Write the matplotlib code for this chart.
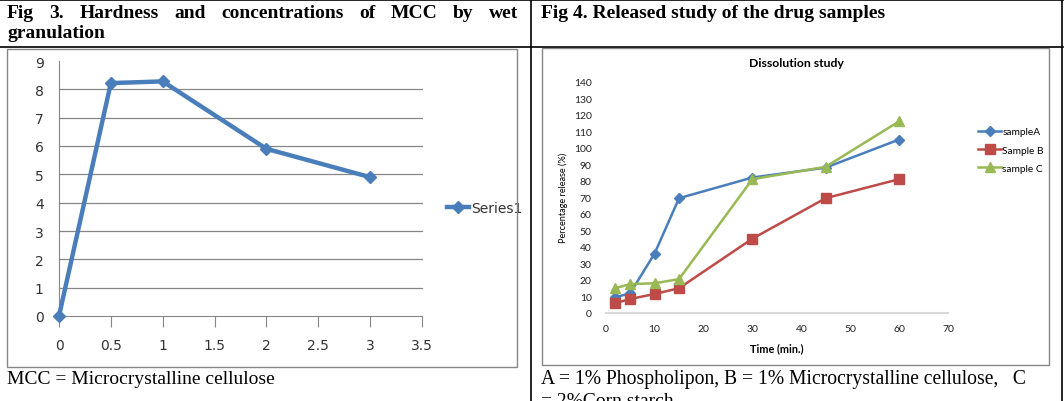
import matplotlib
matplotlib.use("Agg")
import matplotlib.pyplot as plt
from matplotlib.patches import Rectangle
from matplotlib.lines import Line2D

W, H = 1064, 402

# ---------------- data ----------------
mcc_conc = [0, 0.5, 1, 2, 3]
hardness = [0, 8.22, 8.28, 5.9, 4.9]
left_xticks = [0, 0.5, 1, 1.5, 2, 2.5, 3, 3.5]
left_xticklabels = ["0", "0.5", "1", "1.5", "2", "2.5", "3", "3.5"]
left_yticks = [0, 1, 2, 3, 4, 5, 6, 7, 8, 9]

time_min = [2, 5, 10, 15, 30, 45, 60]
sample_a = [9.5, 12, 36, 69.5, 82, 88, 105]
sample_b = [6, 8.5, 11.5, 15, 45, 69.5, 81]
sample_c = [15, 17.5, 18, 20.5, 81, 88.5, 116]
series_names = ["sampleA", "Sample B", "sample C"]
right_xticks = [0, 10, 20, 30, 40, 50, 60, 70]
right_yticks = list(range(0, 141, 10))

header_left = "Fig 3. Hardness and concentrations of MCC by wet"
header_left2 = "granulation"
header_right = "Fig 4. Released study of the drug samples"
caption_left = "MCC = Microcrystalline cellulose"
caption_right1 = "A = 1% Phospholipon, B = 1% Microcrystalline cellulose,   C"
caption_right2 = "= 2%Corn starch"

BLUE = "#4A7EBB"
RED = "#BE4B48"
GREEN = "#98B954"
GREY = "#868686"

fig = plt.figure(figsize=(W / 100, H / 100), dpi=100)
fig.patch.set_facecolor("white")


def fx(x):
    return x / W


def fy(y):
    return 1 - y / H


def px_axes(x0, ytop, x1, ybot):
    return fig.add_axes([fx(x0), fy(ybot), (x1 - x0) / W, (ybot - ytop) / H])


def hline(x0, x1, y, color="black", lw=1.0):
    fig.add_artist(Line2D([fx(x0), fx(x1)], [fy(y), fy(y)], color=color, lw=lw))


def vline(x, y0, y1, color="black", lw=1.0):
    fig.add_artist(Line2D([fx(x), fx(x)], [fy(y0), fy(y1)], color=color, lw=lw))


# ---------------- table lines ----------------
hline(0, 1063, 0.5, lw=1.2)
hline(0, 1063, 47.5, lw=1.2)
vline(530.5, 0, 402, lw=1.2)
vline(1061.5, 0, 402, lw=1.2)

# chart frames
fig.add_artist(Rectangle((fx(7), fy(368)), (517 - 7) / W, (368 - 50) / H,
                         transform=fig.transFigure, fill=False, ec=GREY, lw=1.0))
fig.add_artist(Rectangle((fx(542), fy(366)), (1049 - 542) / W, (366 - 49) / H,
                         transform=fig.transFigure, fill=False, ec=GREY, lw=1.0))

serif = ["Liberation Serif", "DejaVu Serif"]


def justify(text, x0, x1, y, size, weight="normal"):
    words = text.split()
    objs = [fig.text(0, fy(y), w, fontsize=size, fontweight=weight, family=serif,
                     va="center", ha="left") for w in words]
    fig.canvas.draw()
    r = fig.canvas.get_renderer()
    widths = [o.get_window_extent(r).width for o in objs]
    gap = ((x1 - x0) - sum(widths)) / (len(words) - 1)
    x = x0
    for o, w in zip(objs, widths):
        o.set_x(fx(x))
        x += w + gap


HS = 14
justify(header_left, 7, 518, 13, HS, "bold")
fig.text(fx(7), fy(34), header_left2, fontsize=HS, fontweight="bold", family=serif,
         va="center", ha="left")
fig.text(fx(541), fy(13), header_right, fontsize=HS, fontweight="bold", family=serif,
         va="center", ha="left")

CS = 14
fig.text(fx(7), fy(380), caption_left, fontsize=CS, family=serif, va="center", ha="left")
fig.text(fx(541), fy(380), caption_right1, fontsize=14.1, family=serif, va="center", ha="left")
fig.text(fx(541), fy(402), caption_right2, fontsize=CS, family=serif, va="center", ha="left")

# ---------------- left chart ----------------
narrow = ["DejaVu Sans"]
ax1 = px_axes(59, 62, 422, 317)
ax1.plot(mcc_conc, hardness, color=BLUE, lw=3.2, marker="D", ms=6.5,
         mfc=BLUE, mec=BLUE, label="Series1", zorder=3)
ax1.set_xlim(0, 3.5)
ax1.set_ylim(0, 9)
ax1.set_xticks(left_xticks)
ax1.set_xticklabels(left_xticklabels)
ax1.set_yticks(left_yticks)
for v in left_yticks[1:-1]:
    ax1.axhline(v, color=GREY, lw=0.9, zorder=1)
for s in ["top", "right"]:
    ax1.spines[s].set_visible(False)
ax1.spines["left"].set_color(GREY)
ax1.spines["bottom"].set_color(GREY)
ax1.tick_params(axis="y", length=0, pad=11, labelsize=10)
ax1.tick_params(axis="x", length=8, color=GREY, direction="out", pad=8, labelsize=10)
for lab in ax1.get_xticklabels() + ax1.get_yticklabels():
    lab.set_family(narrow)
    lab.set_color("#333333")
for sp in ax1.spines.values():
    sp.set_zorder(0.5)
for ln in ax1.lines:
    ln.set_clip_on(False)
leg1 = ax1.legend(loc="center left", bbox_to_anchor=(fx(447), fy(209)),
                  bbox_transform=fig.transFigure, frameon=False, handlelength=1.6,
                  handletextpad=0.15, borderpad=0, borderaxespad=0,
                  prop={"family": narrow, "size": 10})
for t in leg1.get_texts():
    t.set_color("#333333")

# ---------------- right chart ----------------
sans = ["Lato", "DejaVu Sans"]
ax2 = px_axes(605.7, 82.7, 948, 314)
ax2.plot(time_min, sample_a, color=BLUE, lw=1.8, marker="D", ms=5, label=series_names[0])
ax2.plot(time_min, sample_b, color=RED, lw=1.8, marker="s", ms=6.5, label=series_names[1])
ax2.plot(time_min, sample_c, color=GREEN, lw=1.8, marker="^", ms=6.5, label=series_names[2])
ax2.set_xlim(0, 70)
ax2.set_ylim(0, 140)
ax2.set_xticks(right_xticks)
ax2.set_yticks(right_yticks)
for s in ["top", "right", "left"]:
    ax2.spines[s].set_visible(False)
ax2.spines["bottom"].set_color("#D9D9D9")
ax2.spines["bottom"].set_linewidth(1.5)
ax2.tick_params(axis="both", length=0, labelsize=7.5, colors="#222222")
ax2.tick_params(axis="y", pad=10)
ax2.tick_params(axis="x", pad=8)
for lab in ax2.get_xticklabels() + ax2.get_yticklabels():
    lab.set_family(sans)
for ln in ax2.lines:
    ln.set_clip_on(False)
fig.text(fx(796), fy(64), "Dissolution study", fontsize=8.8, fontweight="bold",
         family=sans, ha="center", va="center")
fig.text(fx(777), fy(349), "Time (min.)", fontsize=7.8, fontweight="bold",
         family=sans, ha="center", va="center")
fig.text(fx(563), fy(198), "Percentage release (%)", fontsize=6.6,
         family=sans, ha="center", va="center", rotation=90)
ax2.legend(loc="center left", bbox_to_anchor=(fx(978), fy(151)),
           bbox_transform=fig.transFigure, frameon=False, handlelength=2.3,
           handletextpad=0.1, borderpad=0, borderaxespad=0, labelspacing=0.9,
           prop={"family": sans, "size": 7.3})

fig.savefig("out.png", dpi=100, facecolor="white")
